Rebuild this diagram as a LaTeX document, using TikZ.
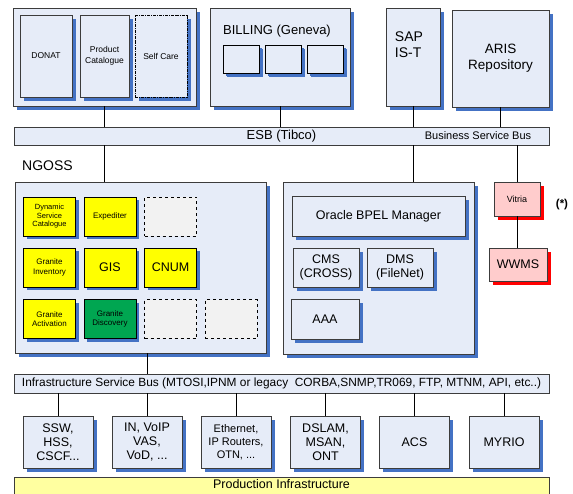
\documentclass[tikz,border=0pt]{standalone}
\usepackage{fontspec}
\setmainfont{Liberation Sans}
\usetikzlibrary{shadows}
\definecolor{boxfill}{RGB}{230,236,248}
\definecolor{shadowblue}{RGB}{68,114,196}
\definecolor{edgegray}{RGB}{60,60,60}
\definecolor{cellyellow}{RGB}{255,255,0}
\definecolor{cellgreen}{RGB}{0,166,81}
\definecolor{emptygray}{RGB}{242,242,242}
\definecolor{pinkfill}{RGB}{255,204,204}
\definecolor{prodyellow}{RGB}{255,255,160}
\tikzstyle{box}=[draw=edgegray,fill=boxfill,line width=0.9pt,inner sep=1pt,align=center,drop shadow={shadow xshift=3.5pt,shadow yshift=-3.5pt,fill=shadowblue,opacity=1}]
\tikzstyle{bus}=[draw=edgegray,fill=boxfill,line width=0.9pt,inner sep=0pt,align=center]
\tikzstyle{cell}=[draw=black,fill=cellyellow,line width=0.8pt,inner sep=0pt,align=center,minimum width=52pt,minimum height=39pt,drop shadow={shadow xshift=3pt,shadow yshift=-3pt,fill=shadowblue,opacity=1}]
\tikzstyle{emptycell}=[draw=black,fill=emptygray,dashed,line width=0.8pt,minimum width=52pt,minimum height=39pt]
\tikzstyle{redbox}=[draw=edgegray,fill=pinkfill,line width=0.9pt,inner sep=0pt,align=center,drop shadow={shadow xshift=3.5pt,shadow yshift=-3.5pt,fill=red,opacity=1}]
\tikzstyle{infra}=[box,minimum width=70pt,minimum height=52pt,font=\fontsize{12.5}{14}\selectfont]
\tikzstyle{link}=[draw=black,line width=0.8pt]

\begin{document}
\begin{tikzpicture}[x=1pt,y=-1pt]
\useasboundingbox (0,0) rectangle (573,493);
\node[box,minimum width=183pt,minimum height=98pt] at (104.5, 57) (grpTop) {};
\node[box,minimum width=52pt,minimum height=82pt,font=\fontsize{8.5}{10}\selectfont] at (46, 56) (donat) {DONAT};
\node[box,minimum width=49pt,minimum height=82pt,font=\fontsize{8.5}{11}\selectfont] at (104.5, 56) (prodcat) {Product\\Catalogue};
\node[box,densely dash dot,draw=black,minimum width=52pt,minimum height=82pt,font=\fontsize{8.5}{10}\selectfont] at (161, 56) (selfcare) {Self Care};
\node[box,minimum width=140pt,minimum height=98pt] at (280, 57) (billing) {};
\node[font=\fontsize{13}{15}\selectfont,inner sep=0pt] at (277, 31) (billingLabel) {BILLING (Geneva)};
\node[box,draw=black,minimum width=36pt,minimum height=28pt,drop shadow={shadow xshift=3pt,shadow yshift=-3pt,fill=shadowblue,opacity=1}] at (241, 59) (bill1) {};
\node[box,draw=black,minimum width=36pt,minimum height=28pt,drop shadow={shadow xshift=3pt,shadow yshift=-3pt,fill=shadowblue,opacity=1}] at (283, 59) (bill2) {};
\node[box,draw=black,minimum width=36pt,minimum height=28pt,drop shadow={shadow xshift=3pt,shadow yshift=-3pt,fill=shadowblue,opacity=1}] at (325, 59) (bill3) {};
\node[box,minimum width=54pt,minimum height=98pt] at (413, 57) (sap) {};
\node[font=\fontsize{14}{16}\selectfont,align=left,inner sep=0pt] at (409, 45) (sapLabel) {SAP\\IS-T};
\node[box,minimum width=97pt,minimum height=97pt,font=\fontsize{13.5}{16}\selectfont] at (500.5, 58.5) (aris) {ARIS\\Repository};
\node[bus,minimum width=535pt,minimum height=18pt,font=\fontsize{13}{15}\selectfont] at (281.5, 136) (esb) {ESB (Tibco)};
\node[font=\fontsize{11}{13}\selectfont,inner sep=0pt] at (478, 136) (bsb) {Business Service Bus};
\draw[link] (grpTop.south) -- (grpTop.south |- esb.north);
\draw[link] (billing.south) -- (billing.south |- esb.north);
\draw[link] (sap.south) -- (sap.south |- esb.north);
\draw[link] (aris.south) -- (aris.south |- esb.north);

\node[font=\fontsize{14}{16}\selectfont,anchor=west,inner sep=0pt] at (22, 166) (ngossLabel) {NGOSS};
\node[box,minimum width=251pt,minimum height=171pt] at (140.5, 267.5) (ngoss) {};
\node[cell,font=\fontsize{7.5}{8.5}\selectfont] at (49.5, 216.5) (dsc) {Dynamic\\Service\\Catalogue};
\node[cell,font=\fontsize{8}{9}\selectfont] at (110, 216.5) (expediter) {Expediter};
\node[emptycell] at (170.5, 216.5) (empty1) {};
\node[cell,font=\fontsize{8}{9.5}\selectfont] at (49.5, 267.5) (ginv) {Granite\\Inventory};
\node[cell,font=\fontsize{12.5}{14}\selectfont] at (110, 267.5) (gis) {GIS};
\node[cell,font=\fontsize{12.5}{14}\selectfont] at (170.5, 267.5) (cnum) {CNUM};
\node[cell,font=\fontsize{8}{9.5}\selectfont] at (49.5, 319) (gact) {Granite\\Activation};
\node[cell,fill=cellgreen,font=\fontsize{8}{9.5}\selectfont] at (110, 319) (gdisc) {Granite\\Discovery};
\node[emptycell] at (170.5, 319) (empty2) {};
\node[emptycell] at (231, 319) (empty3) {};

\node[box,minimum width=191pt,minimum height=172pt] at (378.5, 268) (oracle) {};
\node[box,minimum width=173pt,minimum height=40pt,font=\fontsize{12.5}{14}\selectfont] at (378.5, 216) (bpel) {Oracle BPEL Manager};
\node[box,minimum width=66pt,minimum height=39pt,font=\fontsize{12.5}{14}\selectfont] at (326, 267.5) (cms) {CMS\\(CROSS)};
\node[box,minimum width=66pt,minimum height=39pt,font=\fontsize{12.5}{14}\selectfont] at (400, 267.5) (dms) {DMS\\(FileNet)};
\node[box,minimum width=68pt,minimum height=40pt,font=\fontsize{12.5}{14}\selectfont] at (325, 319) (aaa) {AAA};

\node[redbox,minimum width=46pt,minimum height=34pt,font=\fontsize{9}{11}\selectfont] at (517, 199) (vitria) {Vitria};
\node[redbox,minimum width=58pt,minimum height=33pt,font=\fontsize{12.5}{14}\selectfont] at (518, 264.5) (wwms) {WWMS};
\node[font=\bfseries\fontsize{11.5}{13}\selectfont,inner sep=0pt] at (562, 205) (star) {(*)};
\draw[link] (grpTop.south |- esb.south) -- (grpTop.south |- ngoss.north);
\draw[link] (sap.south |- esb.south) -- (sap.south |- oracle.north);
\draw[link] (vitria.north |- esb.south) -- (vitria.north);
\draw[link] (vitria.south) -- (vitria.south |- wwms.north);

\node[bus,minimum width=535pt,minimum height=19pt,font=\fontsize{11.9}{13}\selectfont] at (281.5, 383.5) (infra) {Infrastructure Service Bus (MTOSI,IPNM or legacy\ \ CORBA,SNMP,TR069, FTP, MTNM, API, etc..)};
\node[infra] at (58, 442) (ssw) {SSW,\\HSS,\\CSCF...};
\node[infra] at (147, 442) (voip) {IN, VoIP\\VAS,\\VoD, ...};
\node[infra,font=\fontsize{11}{13}\selectfont] at (236, 442) (eth) {Ethernet,\\IP Routers,\\OTN, ...};
\node[infra] at (325.5, 442) (dslam) {DSLAM,\\MSAN,\\ONT};
\node[infra] at (414.5, 442) (acs) {ACS};
\node[infra] at (504, 442) (myrio) {MYRIO};
\draw[link] (voip.north |- ngoss.south) -- (voip.north |- infra.north);
\draw[link] (ssw.north |- infra.south) -- (ssw.north);
\draw[link] (voip.north |- infra.south) -- (voip.north);
\draw[link] (eth.north |- infra.south) -- (eth.north);
\draw[link] (dslam.north |- infra.south) -- (dslam.north);
\draw[link] (acs.north |- infra.south) -- (acs.north);
\draw[link] (myrio.north |- infra.south) -- (myrio.north);
\node[bus,fill=prodyellow,minimum width=535pt,minimum height=22pt,anchor=north,font=\fontsize{12.5}{14}\selectfont,text depth=8pt] at (281.5, 477) (prod) {Production Infrastructure};
\end{tikzpicture}
\end{document}
